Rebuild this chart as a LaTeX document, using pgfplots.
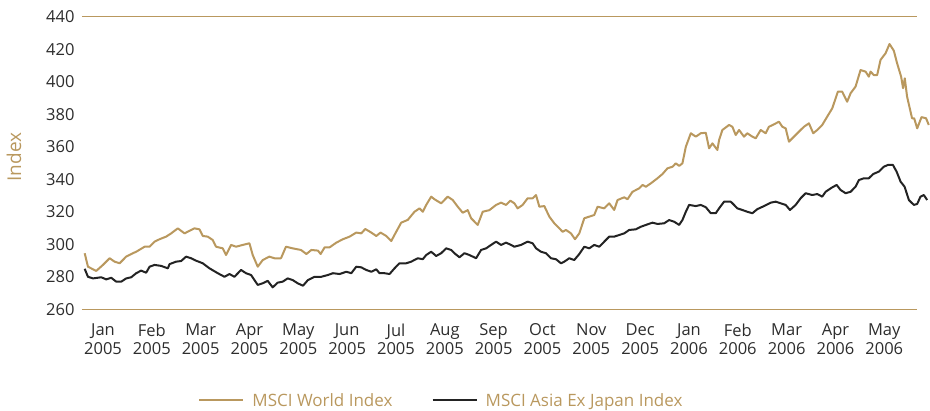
\documentclass[border=0pt]{standalone}
\usepackage{fontspec}
\setmainfont{Open Sans}
\usepackage{pgfplots}
\pgfplotsset{compat=1.18}

\definecolor{gold}{RGB}{185,152,94}
\definecolor{inkgrey}{RGB}{45,45,45}
\definecolor{linedark}{RGB}{35,35,35}

% x = months since 1 Jan 2005
\pgfplotstableread{
x val
0.125 294.5
0.192 286.2
0.362 283.6
0.499 287.3
0.636 291.4
0.738 289.3
0.840 288.3
0.975 292.4
1.112 294.5
1.180 295.4
1.352 298.5
1.454 298.5
1.556 301.6
1.658 303.1
1.793 304.7
1.896 306.7
2.033 309.8
2.170 306.7
2.305 308.8
2.374 309.8
2.476 309.2
2.544 305.1
2.646 304.7
2.748 302.6
2.816 298.5
2.953 297.5
3.020 293.4
3.123 299.6
3.225 298.5
3.362 299.6
3.499 300.6
3.566 293.4
3.669 286.2
3.771 290.3
3.908 292.4
4.010 291.4
4.145 291.4
4.247 298.5
4.384 297.5
4.554 296.5
4.665 294.0
4.767 296.5
4.902 296.1
4.957 294.0
5.039 298.1
5.141 298.1
5.278 301.0
5.413 303.1
5.550 304.7
5.687 307.2
5.789 306.7
5.871 309.4
5.994 307.2
6.096 305.1
6.184 307.2
6.301 305.1
6.403 302.0
6.505 307.7
6.607 313.3
6.742 315.0
6.879 320.0
6.982 322.1
7.049 320.0
7.119 324.2
7.221 329.3
7.288 327.7
7.425 325.2
7.560 329.3
7.663 327.2
7.765 323.1
7.867 319.4
7.969 321.0
8.039 316.0
8.174 311.9
8.276 320.0
8.413 321.0
8.550 324.2
8.652 325.6
8.754 324.2
8.843 326.8
8.924 325.2
8.992 322.1
9.094 324.2
9.196 328.3
9.299 328.3
9.368 330.3
9.436 323.1
9.538 323.5
9.640 317.0
9.742 312.9
9.845 309.8
9.912 307.7
9.982 308.8
10.084 306.7
10.166 303.1
10.254 306.7
10.356 316.0
10.458 317.0
10.560 318.0
10.628 323.1
10.765 322.1
10.867 325.2
10.969 321.1
11.037 327.2
11.174 328.9
11.241 327.7
11.344 332.3
11.481 334.4
11.548 336.5
11.618 335.4
11.720 337.5
11.855 340.6
11.957 343.2
12.059 346.7
12.162 347.7
12.231 349.8
12.299 348.2
12.366 349.8
12.436 360.0
12.538 368.3
12.640 366.2
12.742 368.3
12.845 368.6
12.912 359.0
12.980 362.1
13.082 358.0
13.117 364.1
13.184 370.3
13.321 373.4
13.389 372.3
13.458 367.2
13.526 370.3
13.628 366.2
13.695 368.3
13.798 366.2
13.867 365.2
13.969 370.3
14.071 368.3
14.139 372.3
14.241 373.8
14.344 375.4
14.411 372.3
14.481 371.3
14.548 363.1
14.650 366.2
14.753 369.3
14.855 372.3
14.957 374.4
15.045 368.3
15.127 370.3
15.229 373.4
15.331 378.5
15.434 383.6
15.550 393.9
15.638 393.9
15.740 387.7
15.810 392.9
15.912 397.0
16.014 407.2
16.117 406.2
16.184 403.1
16.219 406.2
16.286 404.1
16.354 404.1
16.423 413.4
16.526 417.5
16.607 423.2
16.695 419.1
16.763 411.3
16.845 403.1
16.885 396.0
16.920 402.1
16.967 390.8
17.069 377.5
17.112 377.5
17.174 371.3
17.262 378.2
17.356 377.5
17.411 373.4
}\world

\pgfplotstableread{
x val
0.125 284.9
0.192 280.0
0.294 279.0
0.464 279.7
0.566 278.4
0.669 279.4
0.771 277.0
0.873 277.0
0.975 279.0
1.078 279.7
1.180 282.2
1.282 283.8
1.384 282.5
1.454 286.2
1.556 287.3
1.691 286.7
1.828 285.2
1.863 287.8
1.998 289.3
2.100 289.7
2.202 292.4
2.305 291.4
2.407 289.9
2.544 288.3
2.681 285.2
2.851 282.2
2.988 280.0
3.090 281.7
3.192 280.0
3.327 284.2
3.429 282.2
3.532 281.1
3.669 275.0
3.771 276.0
3.873 277.5
3.975 273.5
4.078 276.4
4.180 277.0
4.282 279.0
4.384 278.0
4.487 276.0
4.596 274.5
4.697 278.0
4.834 280.0
4.971 280.0
5.106 281.1
5.209 282.2
5.346 281.7
5.483 283.1
5.585 282.2
5.687 286.2
5.789 285.8
5.892 284.2
5.994 283.1
6.096 284.6
6.163 282.2
6.266 282.2
6.368 281.7
6.470 285.2
6.572 288.3
6.710 288.3
6.812 289.3
6.947 291.4
7.049 290.8
7.119 293.4
7.221 295.4
7.323 292.8
7.425 294.5
7.528 297.5
7.630 296.5
7.697 294.5
7.800 292.0
7.902 294.5
8.004 293.4
8.141 291.4
8.243 296.5
8.346 297.5
8.448 299.6
8.550 301.6
8.652 299.6
8.754 301.0
8.857 299.6
8.924 298.5
9.061 299.6
9.196 301.6
9.299 300.6
9.368 297.5
9.470 295.4
9.573 294.5
9.675 291.4
9.777 290.8
9.879 288.3
9.947 289.3
10.049 291.4
10.151 290.3
10.254 294.0
10.356 298.5
10.458 297.5
10.560 299.6
10.663 298.5
10.765 301.6
10.867 304.7
10.969 304.7
11.071 305.7
11.174 306.7
11.276 308.8
11.413 309.2
11.515 310.8
11.618 311.9
11.753 313.3
11.855 312.5
11.992 312.9
12.094 314.9
12.196 313.9
12.299 311.9
12.366 314.9
12.436 320.0
12.503 324.2
12.640 323.5
12.742 324.2
12.845 322.8
12.947 319.1
13.049 319.1
13.117 322.1
13.219 326.2
13.356 326.2
13.423 324.2
13.491 322.1
13.593 321.1
13.695 320.0
13.798 319.1
13.900 321.6
14.037 323.5
14.174 325.6
14.276 326.2
14.378 325.2
14.481 324.2
14.569 321.1
14.685 324.2
14.787 328.3
14.890 331.4
15.025 330.3
15.127 330.9
15.229 329.3
15.299 332.3
15.434 335.0
15.524 336.5
15.605 333.4
15.708 331.4
15.810 332.3
15.912 335.4
15.980 339.5
16.082 340.6
16.184 340.6
16.272 343.2
16.389 344.7
16.491 347.7
16.575 348.8
16.677 348.8
16.752 344.7
16.834 338.5
16.916 335.4
17.004 327.2
17.106 324.2
17.174 324.8
17.241 329.3
17.311 330.3
17.378 327.2
}\asia

\begin{document}
\begin{tikzpicture}
\begin{axis}[
  at={(0pt,0pt)}, anchor=south west,
  scale only axis,
  width=835pt, height=292.6pt,
  xmin=0.07, xmax=17.17,
  ymin=260, ymax=440,
  clip=false,
  axis line style={draw=none},
  major tick length=0pt,
  ytick={260,280,...,440},
  xtick={0.5,1.5,...,16.5},
  xticklabels={Jan\\2005,Feb\\2005,Mar\\2005,Apr\\2005,May\\2005,Jun\\2005,Jul\\2005,Aug\\2005,Sep\\2005,Oct\\2005,Nov\\2005,Dec\\2005,Jan\\2006,Feb\\2006,Mar\\2006,Apr\\2006,May\\2006},
  xticklabel style={align=center, text=inkgrey, font=\fontsize{16.5}{18.5}\selectfont, yshift=-11pt},
  yticklabel style={text=inkgrey, font=\fontsize{16.5}{18}\selectfont, xshift=-4pt},
  /pgf/number format/assume math mode=true,
  extra y ticks={260,440},
  extra y tick labels={},
  extra y tick style={grid=major, major grid style={gold, line width=1.2pt}},
  ylabel={Index},
  ylabel style={at={(axis description cs:-0.0814,0.52)}, anchor=center, text=gold, font=\fontsize{19}{22}\selectfont},
  legend columns=2,
  legend style={at={(axis description cs:0.139,-0.311)}, anchor=west, draw=none, fill=none,
    inner sep=0pt, font=\fontsize{17}{20}\selectfont, text=gold,
    /tikz/every odd column/.append style={column sep=6pt},
    /tikz/every even column/.append style={column sep=37pt}},
  legend image code/.code={\draw[#1, line width=2.2pt] (0pt,0pt) -- (44pt,0pt);},
]
\addplot[gold, line width=2pt, line join=round] table[x=x, y=val] {\world};
\addlegendentry{MSCI World Index}
\addplot[linedark, line width=2pt, line join=round] table[x=x, y=val] {\asia};
\addlegendentry{MSCI Asia Ex Japan Index}
\end{axis}
\pgfresetboundingbox
\path[use as bounding box] (-82pt,-101.7pt) rectangle (848pt,309.3pt);
\end{tikzpicture}
\end{document}
